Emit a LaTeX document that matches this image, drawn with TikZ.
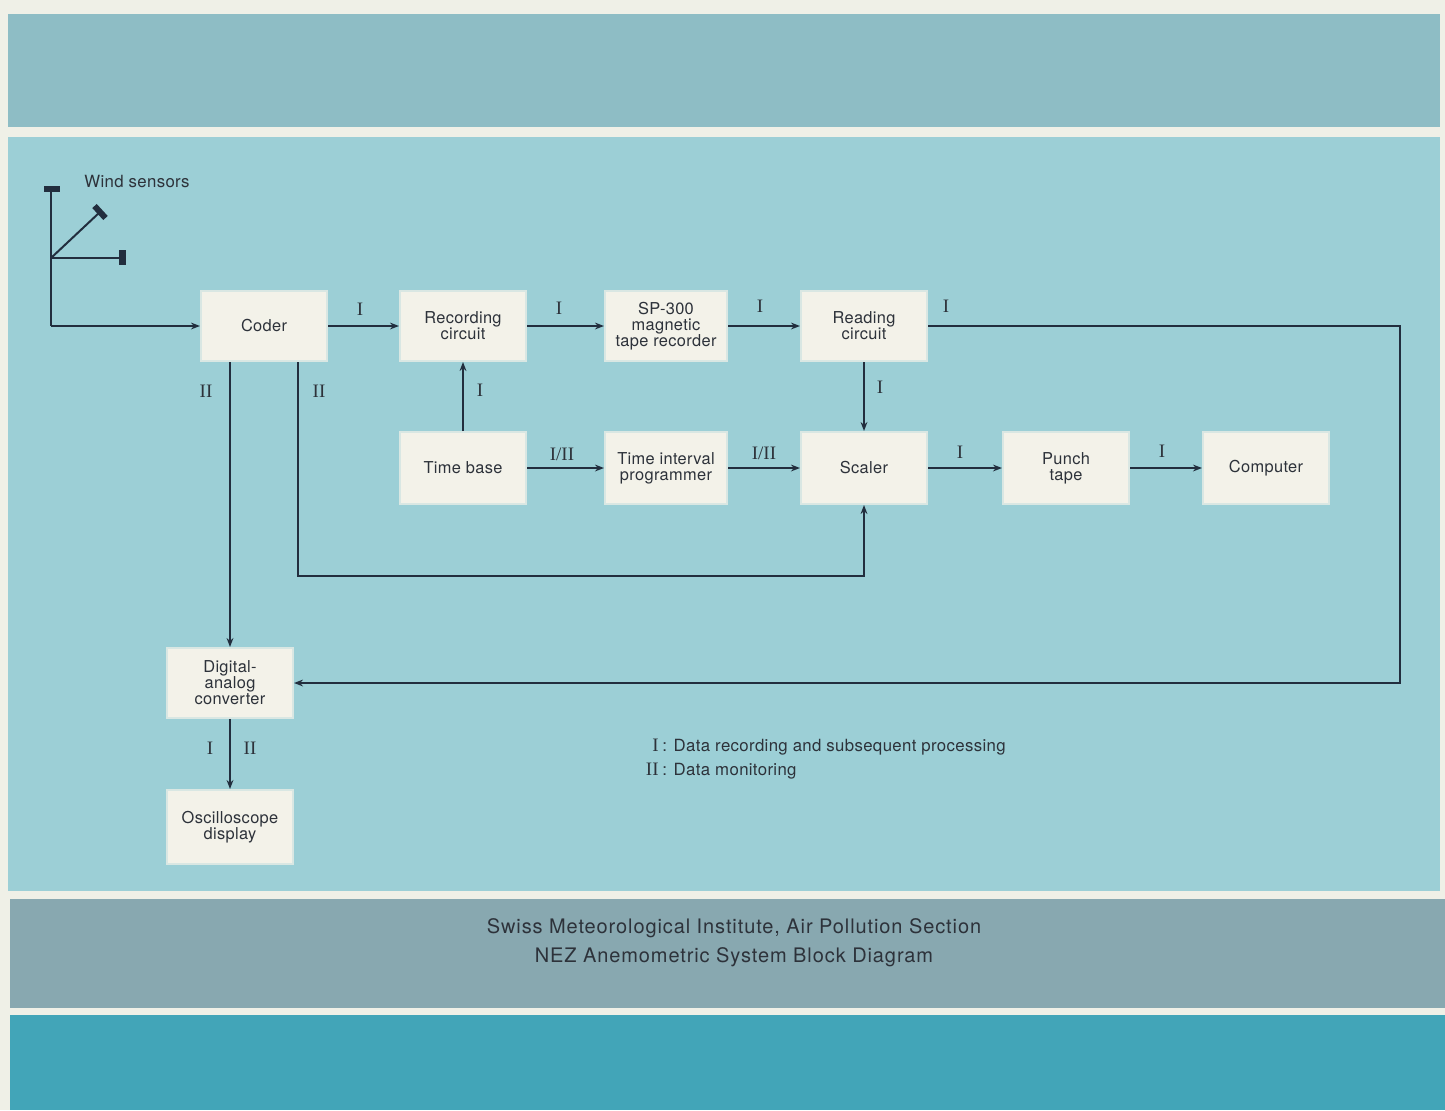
\documentclass[tikz,border=0pt]{standalone}
\usepackage{fontspec}
\setmainfont{TeX Gyre Heros}
\newfontfamily\romf{Liberation Serif}
\newfontfamily\boxf[LetterSpace=2]{TeX Gyre Heros}
\newfontfamily\footf[LetterSpace=4.5]{TeX Gyre Heros}
\usetikzlibrary{arrows.meta}
\definecolor{pagebg}{RGB}{239,240,231}
\definecolor{topband}{RGB}{142,189,197}
\definecolor{panel}{RGB}{156,207,214}
\definecolor{grayband}{RGB}{136,168,176}
\definecolor{botband}{RGB}{66,165,184}
\definecolor{boxfill}{RGB}{243,242,233}
\definecolor{lnc}{RGB}{34,46,62}
\definecolor{txt}{RGB}{45,50,58}
\begin{document}
\begin{tikzpicture}[x=0.5pt,y=-0.5pt,
  blk/.style={fill=boxfill, draw=boxfill!70!panel, line width=1pt, minimum width=63pt, minimum height=35pt, inner sep=1pt, align=center, text=txt, font=\boxf\fontsize{8.2}{8}\selectfont},
  ln/.style={draw=lnc, line width=1pt},
  arr/.style={ln, -{Stealth[length=4.5pt,width=3.4pt]}},
  lbl/.style={text=txt, font=\romf\fontsize{9.5}{10}\selectfont, inner sep=0pt},
  txtn/.style={text=txt, font=\boxf\fontsize{8.4}{10}\selectfont, inner sep=0pt}]
\fill[pagebg] (0,0) rectangle (1445,1110);
\useasboundingbox (0,0) rectangle (1445,1110);
% bands
\fill[topband] (8,14) rectangle (1440,127);
\fill[panel] (8,137) rectangle (1440,891);
\fill[grayband] (10,899) rectangle (1445,1008);
\fill[botband] (10,1015) rectangle (1445,1110);

% boxes
\node[blk] (coder) at (264,326) {Coder};
\node[blk] (rec) at (463,326) {Recording\\circuit};
\node[blk, minimum width=61pt] (sp) at (666,326) {SP-300\\magnetic\\tape recorder};
\node[blk] (read) at (864,326) {Reading\\circuit};
\node[blk, minimum height=36pt] (tb) at (463,468) {Time base};
\node[blk, minimum width=61pt, minimum height=36pt] (tip) at (666,468) {Time interval\\programmer};
\node[blk, minimum height=36pt] (scal) at (864,468) {Scaler};
\node[blk, minimum height=36pt] (punch) at (1066,468) {Punch\\tape};
\node[blk, minimum height=36pt] (comp) at (1266,468) {Computer};
\node[blk] (dac) at (230,683) {Digital-\\analog\\converter};
\node[blk, minimum height=37pt] (osc) at (230,827) {Oscilloscope\\display};

% wind sensors
\coordinate (stop) at (51,189);
\coordinate (sj) at (51,258);
\coordinate (sd) at (100,212);
\coordinate (sh) at (122,258);
\coordinate (sb) at (51,326);
\draw[ln] (stop) -- (sb);
\draw[ln] (sj) -- (sd);
\draw[ln] (sj) -- (sh);
\fill[lnc] (44,186) rectangle (60,192);
\fill[lnc] (119,250) rectangle (126,265);
\draw[lnc, line width=3pt] (94.5,206) -- (105.5,218);
\node[txtn, anchor=west] (ws) at (84,181) {Wind sensors};
\draw[arr] (sb) -- (coder);

% connectors
\draw[arr] (coder) -- (rec);
\draw[arr] (rec) -- (sp);
\draw[arr] (sp) -- (read);
\draw[arr] (read) -- (scal);
\draw[arr] (tb) -- (rec);
\draw[arr] (tb) -- (tip);
\draw[arr] (tip) -- (scal);
\draw[arr] (scal) -- (punch);
\draw[arr] (punch) -- (comp);
\draw[arr] (dac) -- (osc);
\coordinate (rr) at (1400,322);
\draw[arr] (read.east) -- (read.east -| rr) |- (dac.east);
\draw[arr] (coder.south -| dac.north) -- (dac.north);
\coordinate (lp) at (298,576);
\draw[arr] (coder.south -| lp) -- (lp) -| (scal.south);

% labels
\node[lbl] (l1) at (360,309) {I};
\node[lbl] (l2) at (559,308) {I};
\node[lbl] (l3) at (760,306) {I};
\node[lbl] (l4) at (946,306) {I};
\node[lbl] (l5) at (880,387) {I};
\node[lbl] (l6) at (480,390) {I};
\node[lbl] (l7) at (562,454) {I/II};
\node[lbl] (l8) at (764,453) {I/II};
\node[lbl] (l9) at (960,452) {I};
\node[lbl] (l10) at (1162,451) {I};
\node[lbl] (l11) at (206,391) {II};
\node[lbl] (l12) at (319,391) {II};
\node[lbl] (l13) at (210,748) {I};
\node[lbl] (l14) at (250,748) {II};

% legend
\node[lbl, anchor=base east] (g1) at (659,751) {I};
\node[txtn, anchor=base west] (g1t) at (662,751) {: Data recording and subsequent processing};
\node[lbl, anchor=base east] (g2) at (659,775) {II};
\node[txtn, anchor=base west] (g2t) at (662,775) {: Data monitoring};

% footer
\node[text=txt, font=\footf\fontsize{10}{12}\selectfont, anchor=base, inner sep=0pt] (f1) at (734,933) {Swiss Meteorological Institute, Air Pollution Section};
\node[text=txt, font=\footf\fontsize{10}{12}\selectfont, anchor=base, inner sep=0pt] (f2) at (734,962) {NEZ Anemometric System Block Diagram};
\end{tikzpicture}
\end{document}
